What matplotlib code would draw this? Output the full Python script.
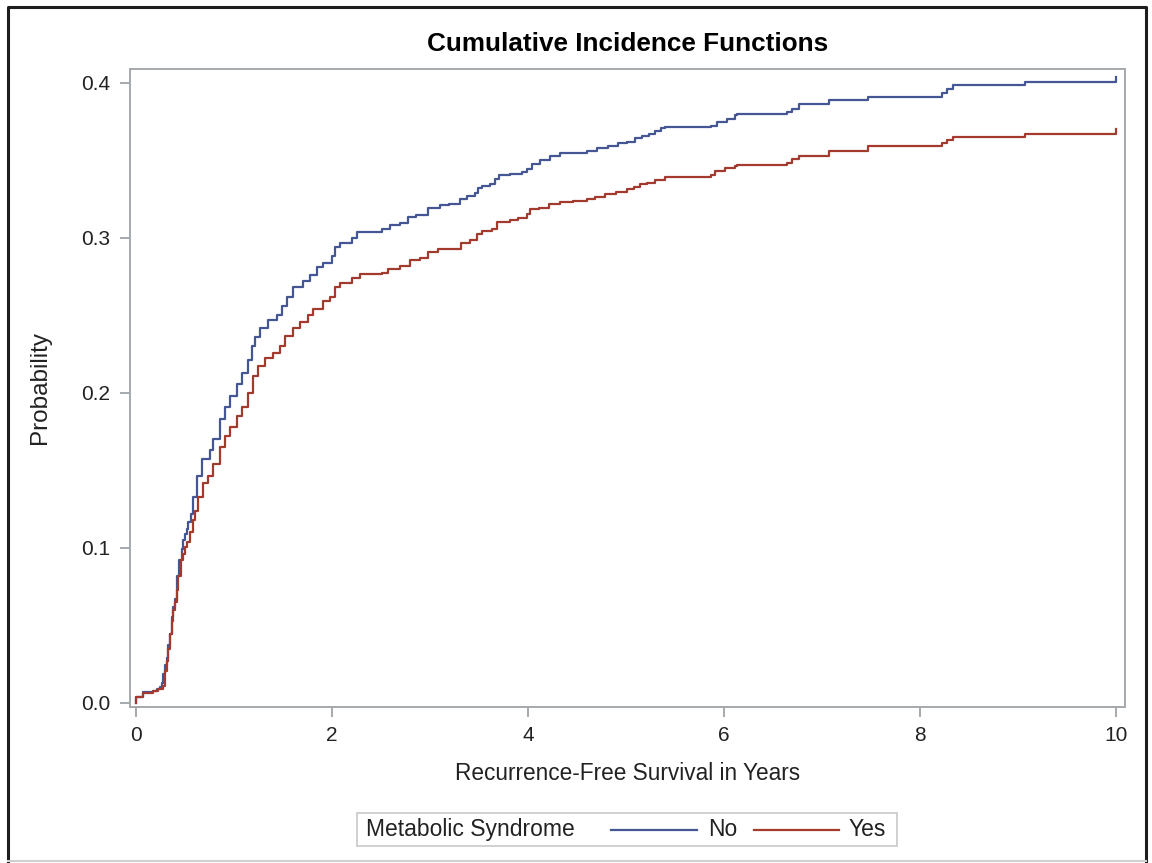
import matplotlib
matplotlib.use("Agg")
import matplotlib.pyplot as plt
from matplotlib.lines import Line2D
from matplotlib.patches import Rectangle

# Cumulative incidence, Metabolic Syndrome = No
t_no = [0.0, 0.0, 0.075, 0.177, 0.211, 0.245, 0.262, 0.279, 0.296, 0.313, 0.33, 0.347, 0.364,
        0.381, 0.398, 0.415, 0.442, 0.466, 0.477, 0.50, 0.517, 0.534, 0.557, 0.585, 0.62, 0.67,
        0.755, 0.79, 0.857, 0.908, 0.96, 1.03, 1.08, 1.146, 1.18, 1.21, 1.266, 1.35, 1.436,
        1.487, 1.538, 1.605, 1.707, 1.776, 1.844, 1.91, 1.997, 2.03, 2.08, 2.20, 2.25, 2.507,
        2.592, 2.69, 2.78, 2.86, 2.98, 3.10, 3.19, 3.31, 3.375, 3.46, 3.49, 3.53, 3.61, 3.66,
        3.70, 3.82, 3.94, 3.99, 4.04, 4.12, 4.22, 4.33, 4.46, 4.60, 4.70, 4.82, 4.92, 5.01,
        5.09, 5.16, 5.23, 5.30, 5.36, 5.40, 5.87, 5.93, 6.03, 6.11, 6.13, 6.64, 6.69, 6.76,
        7.07, 7.47, 8.22, 8.27, 8.34, 9.07, 10.0]
p_no = [0.0, 0.0034, 0.0067, 0.0078, 0.0089, 0.0099, 0.0125, 0.0186, 0.024, 0.029, 0.037, 0.0444,
        0.055, 0.0617, 0.067, 0.082, 0.0924, 0.0995, 0.105, 0.109, 0.112, 0.1167, 0.122, 0.133,
        0.146, 0.157, 0.163, 0.170, 0.183, 0.191, 0.198, 0.206, 0.213, 0.221, 0.230, 0.236,
        0.242, 0.247, 0.250, 0.256, 0.262, 0.268, 0.272, 0.276, 0.281, 0.284, 0.288, 0.294,
        0.297, 0.300, 0.304, 0.3055, 0.308, 0.3094, 0.3137, 0.315, 0.3195, 0.321, 0.322,
        0.3253, 0.327, 0.329, 0.3325, 0.3335, 0.3346, 0.3383, 0.3405, 0.341, 0.3426, 0.3443,
        0.3476, 0.3504, 0.353, 0.3547, 0.355, 0.3562, 0.3577, 0.3594, 0.361, 0.362, 0.3642,
        0.366, 0.367, 0.369, 0.3706, 0.3717, 0.3723, 0.375, 0.377, 0.3793, 0.380, 0.3814,
        0.3832, 0.3864, 0.3892, 0.391, 0.3935, 0.396, 0.3987, 0.4009, 0.4037]

# Cumulative incidence, Metabolic Syndrome = Yes
t_yes = [0.0, 0.0, 0.075, 0.177, 0.228, 0.273, 0.296, 0.313, 0.33, 0.347, 0.364, 0.381, 0.398,
         0.415, 0.432, 0.456, 0.483, 0.50, 0.517, 0.551, 0.585, 0.60, 0.636, 0.68, 0.738, 0.79,
         0.857, 0.908, 0.96, 1.03, 1.08, 1.146, 1.197, 1.248, 1.317, 1.40, 1.47, 1.52, 1.605,
         1.674, 1.758, 1.81, 1.91, 1.98, 2.03, 2.08, 2.20, 2.29, 2.507, 2.575, 2.69, 2.80, 2.90,
         2.98, 3.08, 3.32, 3.41, 3.48, 3.53, 3.63, 3.68, 3.82, 3.90, 3.99, 4.02, 4.11, 4.21,
         4.33, 4.46, 4.60, 4.68, 4.79, 4.90, 5.01, 5.08, 5.14, 5.21, 5.30, 5.40, 5.87, 5.91,
         6.01, 6.11, 6.13, 6.64, 6.69, 6.76, 7.07, 7.47, 8.22, 8.27, 8.34, 9.07, 10.0]
p_yes = [0.0, 0.0034, 0.006, 0.0073, 0.0089, 0.011, 0.0207, 0.027, 0.0347, 0.0444, 0.053, 0.0595,
         0.065, 0.0725, 0.082, 0.092, 0.096, 0.1005, 0.1037, 0.110, 0.118, 0.124, 0.133, 0.1415,
         0.146, 0.154, 0.165, 0.172, 0.178, 0.185, 0.191, 0.1998, 0.2106, 0.217, 0.2224, 0.2257,
         0.230, 0.2364, 0.2418, 0.246, 0.250, 0.254, 0.259, 0.262, 0.268, 0.271, 0.274, 0.2768,
         0.2774, 0.280, 0.282, 0.286, 0.287, 0.2908, 0.293, 0.2969, 0.2986, 0.3023, 0.3044,
         0.306, 0.310, 0.3116, 0.313, 0.3152, 0.3184, 0.3195, 0.3217, 0.3232, 0.3238, 0.3253,
         0.3266, 0.328, 0.3297, 0.3314, 0.333, 0.3346, 0.3357, 0.3374, 0.339, 0.3405, 0.3432,
         0.3448, 0.3465, 0.347, 0.3486, 0.3508, 0.353, 0.356, 0.359, 0.361, 0.363, 0.3648,
         0.367, 0.370]

x_ticks = [0, 2, 4, 6, 8, 10]
y_ticks = [0.0, 0.1, 0.2, 0.3, 0.4]
groups = ["No", "Yes"]
colors = {"No": "#445694", "Yes": "#A23A2E"}

plt.rcParams["font.family"] = ["Liberation Sans", "DejaVu Sans"]

W, H = 1152, 863
fig = plt.figure(figsize=(W / 100, H / 100), dpi=100)
ax = fig.add_axes([130 / W, 1 - 707 / H, (1125 - 130) / W, (707 - 69) / H])

ax.step(t_no, p_no, where="post", color=colors["No"], lw=1.6)
ax.step(t_yes, p_yes, where="post", color=colors["Yes"], lw=1.6)

ax.set_xlim(-0.061, 10.09)
ax.set_ylim(-0.0028, 0.409)
ax.set_xticks(x_ticks)
ax.set_xticklabels([str(v) for v in x_ticks])
ax.set_yticks(y_ticks)
ax.set_yticklabels(["%.1f" % v for v in y_ticks])

grey = "#a5a9ad"
for s in ax.spines.values():
    s.set_color(grey)
    s.set_linewidth(1.4)
ax.tick_params(direction="out", length=7, width=1.4, color=grey, labelsize=15,
               labelcolor="#222222", pad=7)

ax.set_title("Cumulative Incidence Functions", fontsize=18.8, fontweight="bold", pad=13)
ax.set_xlabel("Recurrence-Free Survival in Years", fontsize=16.3, labelpad=12, color="#222222")
ax.set_ylabel("Probability", fontsize=17.5, labelpad=22, color="#222222")

# legend box drawn in figure pixels
ly = 1 - 829.5 / H
fig.add_artist(Rectangle((357 / W, 1 - 846 / H), (897 - 357) / W, (846 - 813) / H,
                         transform=fig.transFigure, fill=False, ec="#c8c8c8", lw=1.2))
fig.text(366 / W, ly, "Metabolic Syndrome", fontsize=16.5, va="center", ha="left", color="#222222")
fig.add_artist(Line2D([611 / W, 697 / W], [ly, ly], transform=fig.transFigure,
                      color=colors["No"], lw=1.6))
fig.text(708 / W, ly, groups[0], fontsize=16.5, va="center", ha="left", color="#222222")
fig.add_artist(Line2D([754 / W, 839 / W], [ly, ly], transform=fig.transFigure,
                      color=colors["Yes"], lw=1.6))
fig.text(849 / W, ly, groups[1], fontsize=16.5, va="center", ha="left", color="#222222")

# outer frame
fig.add_artist(Line2D([8 / W, 8 / W, 1146 / W, 1146 / W], [1 - 861 / H, 1 - 7 / H, 1 - 7 / H, 1 - 861 / H],
                      transform=fig.transFigure, color="#1e1e1e", lw=2.2))
fig.add_artist(Line2D([8 / W, 1146 / W], [1 - 861 / H, 1 - 861 / H],
                      transform=fig.transFigure, color="#d0d0d0", lw=1.5))

fig.savefig("out.png", dpi=100)
